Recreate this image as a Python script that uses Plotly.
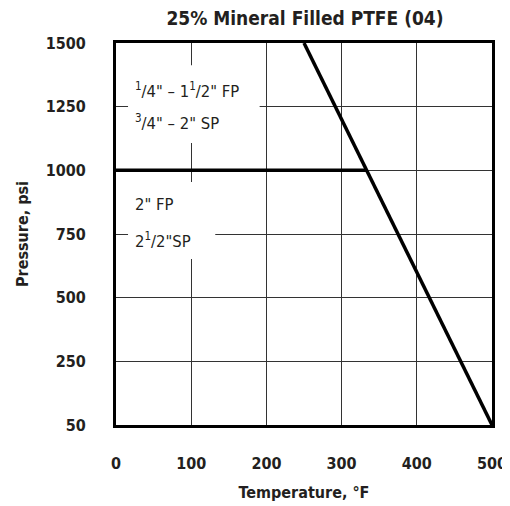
import plotly.graph_objects as go

# Data
temp_diag = [250, 500]
press_diag = [1500, 0]
temp_horiz = [0, 333.3]
press_horiz = [1000, 1000]

x_ticks = [0, 100, 200, 300, 400, 500]
x_ticktext = ["0", "100", "200", "300", "400", "500"]
y_ticks = [0, 250, 500, 750, 1000, 1250, 1500]
y_ticktext = ["50", "250", "500", "750", "1000", "1250", "1500"]

label_upper = ["<sup>1</sup>/4\" – 1<sup>1</sup>/2\" FP", "<sup>3</sup>/4\" – 2\" SP"]
label_lower = ["2\" FP", "2<sup>1</sup>/2\"SP"]

FONT = "DejaVu Sans Condensed, Liberation Sans Narrow, Arial Narrow, sans-serif"
TXT = "#231f20"


def mkfont(size, bold=False):
    d = dict(family=FONT, size=size, color=TXT)
    if bold:
        d["weight"] = "bold"
    return d


fig = go.Figure()
fig.add_trace(go.Scatter(x=temp_diag, y=press_diag, mode="lines",
                         line=dict(color="black", width=3.5), showlegend=False, hoverinfo="skip"))
fig.add_trace(go.Scatter(x=temp_horiz, y=press_horiz, mode="lines",
                         line=dict(color="black", width=3.5), showlegend=False, hoverinfo="skip"))

# white boxes behind labels (cover gridlines)
fig.add_shape(type="rect", x0=16, x1=191, y0=1107, y1=1413, xref="x", yref="y",
              fillcolor="white", line=dict(width=0), layer="above")
fig.add_shape(type="rect", x0=16, x1=132, y0=652, y1=954, xref="x", yref="y",
              fillcolor="white", line=dict(width=0), layer="above")

for txt, yv in zip(label_upper, [1315, 1190]):
    fig.add_annotation(x=22, y=yv, text=txt, showarrow=False, xanchor="left", yanchor="middle",
                       font=mkfont(16.5))
for txt, yv in zip(label_lower, [864, 726]):
    fig.add_annotation(x=22, y=yv, text=txt, showarrow=False, xanchor="left", yanchor="middle",
                       font=mkfont(16.5))

fig.update_layout(
    template="none",
    width=502, height=498,
    margin=dict(l=108, r=18, t=35, b=81, autoexpand=False),
    paper_bgcolor="white", plot_bgcolor="white",
    title=dict(text="25% Mineral Filled PTFE (04)", x=0.5916, xanchor="center",
               y=0.980, yanchor="middle", font=mkfont(19, True), automargin=False),
    font=dict(family=FONT, color=TXT),
)
fig.update_xaxes(range=[0, 500], tickvals=x_ticks, ticktext=x_ticktext, automargin=False,
                 showgrid=True, gridcolor="#333333", gridwidth=1.3,
                 showline=True, linecolor="black", linewidth=3, mirror=True,
                 ticks="", ticklabelstandoff=22, zeroline=False,
                 tickfont=mkfont(16, True),
                 title=dict(text="Temperature, °F", standoff=15, font=mkfont(16, True)))
fig.update_yaxes(range=[0, 1500], tickvals=y_ticks, ticktext=y_ticktext, automargin=False,
                 showgrid=True, gridcolor="#333333", gridwidth=1.3,
                 showline=True, linecolor="black", linewidth=3, mirror=True,
                 ticks="", ticklabelstandoff=24, zeroline=False,
                 tickfont=mkfont(16, True),
                 title=dict(text="Pressure, psi", standoff=14, font=mkfont(16, True)))

fig.write_html("out.html")
